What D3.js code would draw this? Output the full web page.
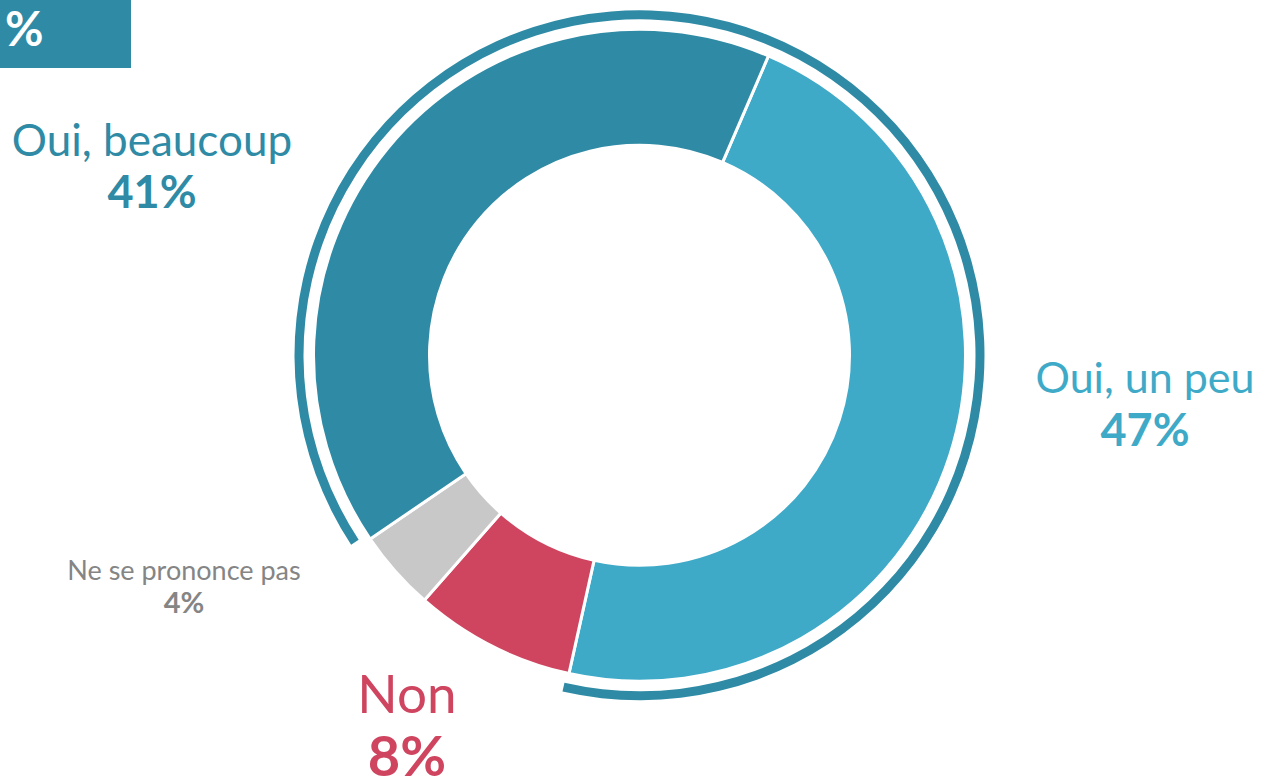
<!DOCTYPE html>
<html>
<head>
    <meta charset="utf-8">
    <title>Donut</title>
    <script src="https://cdn.jsdelivr.net/npm/d3@7"></script>
    <style>
        body { margin: 0; background: #fff; }
        text { font-family: Lato, "Open Sans", sans-serif; }
    </style>
</head>
<body>
<svg id="chart" width="1261" height="781"></svg>
<script>
    // data
    let categories = ["Oui, un peu", "Non", "Ne se prononce pas", "Oui, beaucoup"]
    let values = [47, 8, 4, 41]
    let percentLabels = ["47%", "8%", "4%", "41%"]

    let colors = ["#3eaac8", "#cf4560", "#c8c8c8", "#2f8ba5"]
    let textColors = ["#3eaac8", "#cf4560", "#858585", "#2f8ba5"]

    let svg = d3.select("#chart")
    let cx = 639.5, cy = 355.3
    let startDeg = 23.3
    let toRad = d => d * Math.PI / 180

    // header box
    svg.append("rect")
        .attr("x", 0).attr("y", 0)
        .attr("width", 131).attr("height", 68)
        .attr("fill", "#2f8ba5")
    svg.append("text")
        .attr("x", 5).attr("y", 46)
        .attr("font-size", 47).attr("font-weight", 700)
        .attr("fill", "#fff")
        .text("%")

    let pie = d3.pie()
        .sort(null)
        .value(d => d)
        .startAngle(toRad(startDeg))
        .endAngle(toRad(startDeg) + 2 * Math.PI)

    let slices = pie(values)

    let arc = d3.arc().innerRadius(210).outerRadius(326)

    let g = svg.append("g").attr("transform", `translate(${cx},${cy})`)

    g.selectAll("path.slice")
        .data(slices)
        .enter()
        .append("path")
        .attr("class", "slice")
        .attr("d", arc)
        .attr("fill", (d, i) => colors[i])
        .attr("stroke", "#fff")
        .attr("stroke-width", 3)

    // outer ring around the two "Oui" slices
    let ouiStart = slices[3].startAngle + toRad(1)
    let ouiEnd = slices[0].endAngle + 2 * Math.PI + toRad(0.4)
    g.append("path")
        .attr("d", d3.arc().innerRadius(336).outerRadius(345)
            .startAngle(ouiStart).endAngle(ouiEnd)())
        .attr("fill", "#2f8ba5")

    // labels
    let labelSpots = [
        {x: 1145, y1: 393, y2: 446, s1: 43, s2: 45},
        {x: 407, y1: 713, y2: 776, s1: 53, s2: 56},
        {x: 184, y1: 580, y2: 613, s1: 27, s2: 29},
        {x: 152, y1: 156, y2: 208, s1: 44, s2: 45}
    ]

    let labels = svg.selectAll("g.label")
        .data(categories)
        .enter()
        .append("g")
        .attr("class", "label")

    labels.append("text")
        .attr("x", (d, i) => labelSpots[i].x)
        .attr("y", (d, i) => labelSpots[i].y1)
        .attr("text-anchor", "middle")
        .attr("font-size", (d, i) => labelSpots[i].s1)
        .attr("fill", (d, i) => textColors[i])
        .text(d => d)

    labels.append("text")
        .attr("x", (d, i) => labelSpots[i].x)
        .attr("y", (d, i) => labelSpots[i].y2)
        .attr("text-anchor", "middle")
        .attr("font-size", (d, i) => labelSpots[i].s2)
        .attr("font-weight", 700)
        .attr("fill", (d, i) => textColors[i])
        .text((d, i) => percentLabels[i])
</script>
</body>
</html>
